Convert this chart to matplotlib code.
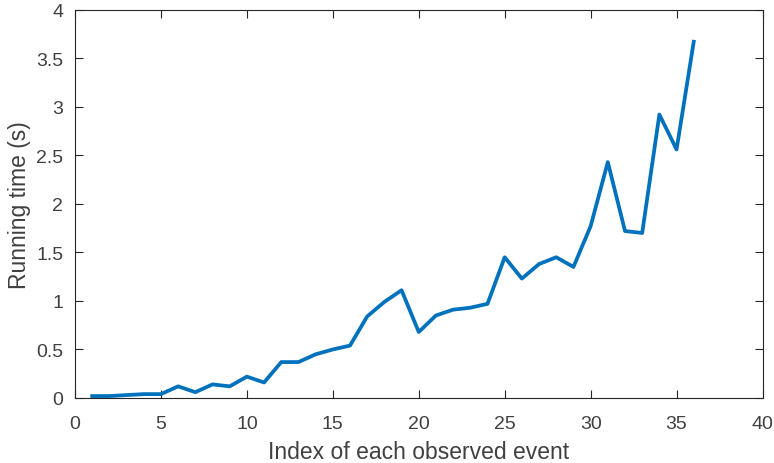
import matplotlib
matplotlib.use("Agg")
import matplotlib.pyplot as plt

event_index = list(range(1, 37))
running_time = [0.02, 0.02, 0.03, 0.04, 0.04, 0.12, 0.06, 0.14, 0.12, 0.22,
                0.16, 0.37, 0.37, 0.45, 0.50, 0.54, 0.84, 0.99, 1.11, 0.68,
                0.85, 0.91, 0.93, 0.97, 1.45, 1.23, 1.38, 1.45, 1.35, 1.77,
                2.43, 1.72, 1.70, 2.92, 2.56, 3.67]
x_ticks = [0, 5, 10, 15, 20, 25, 30, 35, 40]
y_ticks = [0, 0.5, 1, 1.5, 2, 2.5, 3, 3.5, 4]
y_tick_labels = ["0", "0.5", "1", "1.5", "2", "2.5", "3", "3.5", "4"]

plt.rcParams['font.family'] = ['Liberation Sans', 'DejaVu Sans']
axcol = '#262626'
txtcol = '#404040'

fig = plt.figure(figsize=(7.74, 4.64), dpi=100)
ax = fig.add_axes([75/774, 1 - 399/464, 687.5/774, (399 - 10.7)/464])
ax.plot(event_index, running_time, color='#0072BD', linewidth=2.7)
ax.set_xlim(0, 40)
ax.set_ylim(0, 4)
ax.set_xticks(x_ticks)
ax.set_yticks(y_ticks)
ax.set_yticklabels(y_tick_labels)
ax.tick_params(direction='in', top=True, right=True, length=5.5, width=0.8,
               colors=axcol, labelcolor=txtcol, labelsize=14)
ax.tick_params(axis='x', pad=12)
ax.tick_params(axis='y', pad=8.5)
for s in ax.spines.values():
    s.set_color(axcol)
    s.set_linewidth(0.8)
ax.set_xlabel('Index of each observed event', fontsize=16.5, color=txtcol, labelpad=6)
ax.set_ylabel('Running time (s)', fontsize=16.5, color=txtcol, labelpad=4)
fig.savefig('out.png', dpi=100)
